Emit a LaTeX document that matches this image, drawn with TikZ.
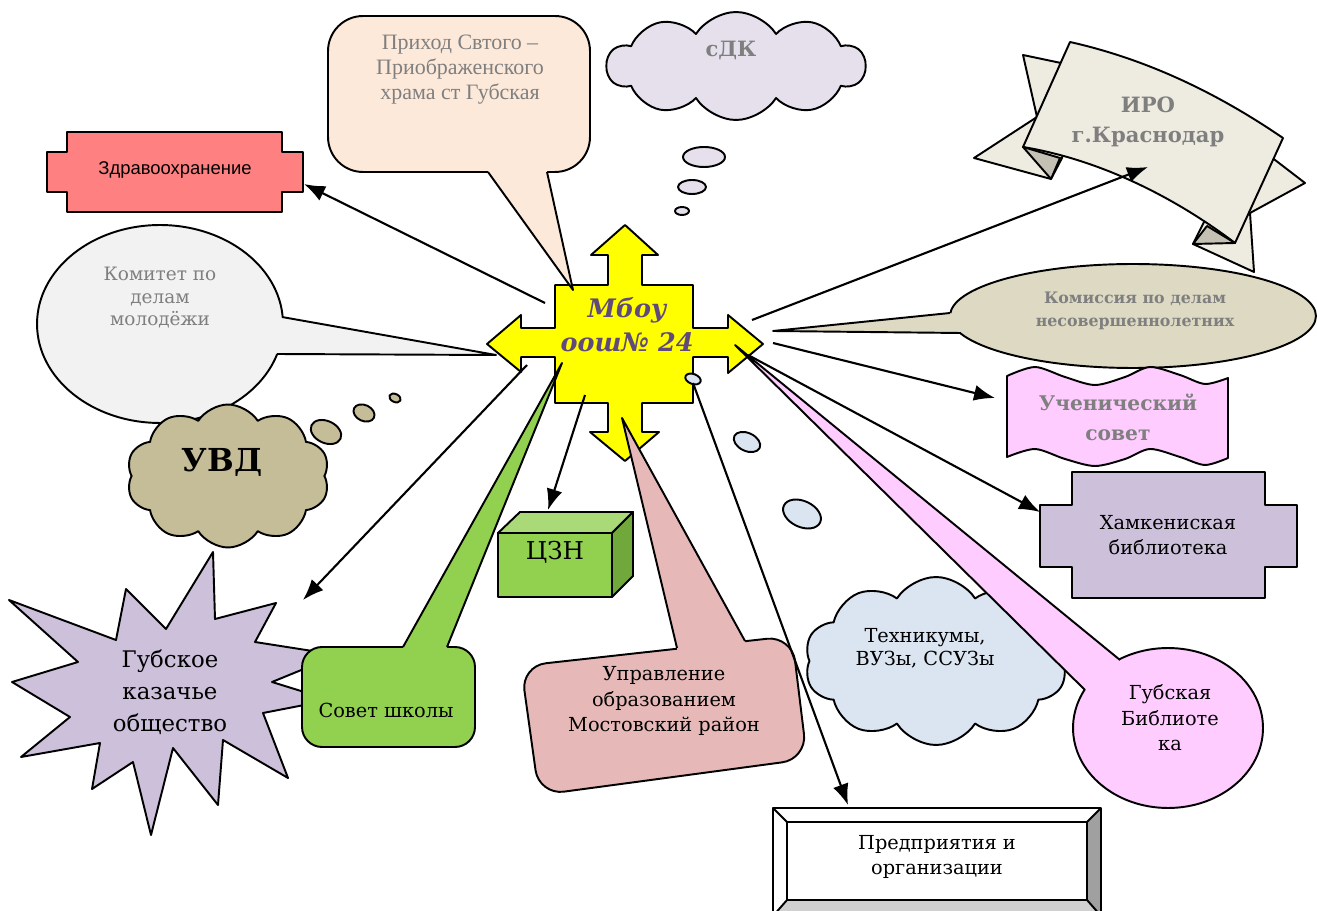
\documentclass[tikz,border=0pt]{standalone}
\usepackage{fontspec}
\setmainfont{DejaVu Serif}
\newfontfamily\timesf{Liberation Serif}
\newfontfamily\arialf{Liberation Sans}
\usetikzlibrary{shapes.geometric,shapes.symbols,arrows.meta}
\definecolor{cyel}{HTML}{FFFF00}
\definecolor{cpeach}{HTML}{FDE9D9}
\definecolor{clav}{HTML}{E5E0EC}
\definecolor{cbeige}{HTML}{EEECE1}
\definecolor{cfold}{HTML}{C4C0B4}
\definecolor{cred}{HTML}{FF8080}
\definecolor{cgrayf}{HTML}{F2F2F2}
\definecolor{ckhaki}{HTML}{C4BD97}
\definecolor{clilac}{HTML}{CCC0DA}
\definecolor{cgreen}{HTML}{92D050}
\definecolor{cgreent}{HTML}{AAD978}
\definecolor{cgreens}{HTML}{70A83C}
\definecolor{crose}{HTML}{E6B9B8}
\definecolor{cblue}{HTML}{DBE5F1}
\definecolor{cpink}{HTML}{FFCCFF}
\definecolor{csand}{HTML}{DDD9C3}
\definecolor{ctxtg}{HTML}{7F7F7F}
\definecolor{cpurp}{HTML}{604A7B}
\definecolor{cbevr}{HTML}{A0A0A0}
\definecolor{cbevb}{HTML}{D0D0D0}
\begin{document}
\begin{tikzpicture}[x=0.02cm,y=-0.02cm,line width=1.1pt,line join=round,
  shp/.style={draw=black},
  txt/.style={align=center,inner sep=0pt},
  arr/.style={-{Latex[length=0.42cm,width=0.32cm]},line width=1.2pt},
  cloudy/.style={cloud,cloud puffs=10,cloud puff arc=115,cloud ignores aspect,draw=black,inner sep=0pt},
  oval/.style={ellipse,draw=black,inner sep=0pt},
  bub/.style={ellipse,draw=black,inner sep=0pt}]
\useasboundingbox (0,0) rectangle (1317,911);
\clip (0,0) rectangle (1317,911);
\fill[white] (0,0) rectangle (1317,911);

% ---------- IRO ribbon
\path[shp,fill=cbeige] (1023,55) -- (1080,67) -- (1062,158) -- (1051,179) -- (974,158) -- (1037,117) -- cycle;
\path[shp,fill=cbeige] (1262,150) -- (1305,183) -- (1250,213) -- (1254,272) -- (1193,244) -- (1215,200) -- cycle;
\path[shp,fill=cbeige] (1070,42) .. controls (1150,60) and (1220,95) .. (1283,138) -- (1235,243) .. controls (1165,190) and (1090,158) .. (1023,147) -- cycle;
\path[shp,fill=cfold] (1023,147) -- (1060,158) -- (1051,179) -- cycle;
\path[shp,fill=cfold] (1193,244) -- (1235,243) -- (1207,226) -- cycle;
\node[txt,text=ctxtg,font=\bfseries\fontsize{12}{17}\selectfont] (iro) at (1148,122) {ИРО\\г.Краснодар};

% ---------- Komissiya
\node[oval,fill=csand,minimum width=7.32cm,minimum height=2.08cm] (komis) at (1133,316) {};
\fill[csand] (950,313) -- (773,331) -- (961,333) -- (990,323) -- cycle;
\draw (950,313) -- (773,331) -- (961,333);
\node[txt,text=ctxtg,font=\bfseries\fontsize{9}{13}\selectfont] (komist) at (1135,311) {Комиссия по делам\\несовершеннолетних};

% ---------- Uchenicheskiy sovet
\path[shp,fill=cpink] plot[smooth] coordinates {(1007,376) (1035,367) (1065,377) (1095,385) (1125,377) (1150,367) (1180,375) (1205,384) (1228,378)}
  -- plot[smooth] coordinates {(1228,458) (1205,465) (1180,457) (1150,449) (1125,459) (1095,466) (1065,459) (1035,449) (1007,457)} -- cycle;
\node[txt,text=ctxtg,font=\bfseries\fontsize{11.5}{17}\selectfont] (uch) at (1118,417) {Ученический\\совет};

% ---------- Khamkeniskaya
\path[shp,fill=clilac] (1072,472) -- (1265,472) -- (1265,505) -- (1297,505) -- (1297,567) -- (1265,567) -- (1265,598) -- (1072,598) -- (1072,567) -- (1040,567) -- (1040,505) -- (1072,505) -- cycle;
\node[txt,font=\fontsize{11}{14.2}\selectfont] (kham) at (1168,535) {Хамкениская\\библиотека};

% ---------- Zdravookhranenie
\path[shp,fill=cred] (67,132) -- (282,132) -- (282,152) -- (303,152) -- (303,192) -- (282,192) -- (282,212) -- (67,212) -- (67,192) -- (47,192) -- (47,152) -- (67,152) -- cycle;
\node[txt,font=\arialf\fontsize{10.5}{13}\selectfont] (zdrav) at (175,170) {Здравоохранение};

% ---------- Predpriyatiya
\path[fill=white] (773,808) rectangle (1101,916);
\path[fill=cbevr] (1101,808) -- (1101,916) -- (1087,902) -- (1087,822) -- cycle;
\path[fill=cbevb] (773,916) -- (1101,916) -- (1087,900) -- (787,900) -- cycle;
\draw (773,808) rectangle (1101,916);
\draw (787,822) rectangle (1087,900);
\draw (773,808) -- (787,822) (1101,808) -- (1087,822) (773,916) -- (787,900) (1101,916) -- (1087,900);
\node[txt,font=\fontsize{11}{14.2}\selectfont] (pred) at (937,857) {Предприятия и\\организации};

% ---------- Central yellow cross
\path[shp,fill=cyel] (625,225) -- (658,255) -- (642,255) -- (642,285) -- (693,285) -- (693,328) -- (728,328) -- (728,315) -- (763,344) -- (728,373) -- (728,357) -- (693,357) -- (693,403) -- (642,403) -- (642,432) -- (659,432) -- (625,461) -- (590,432) -- (608,432) -- (608,403) -- (555,403) -- (555,357) -- (521,357) -- (521,372) -- (487,344) -- (521,315) -- (521,328) -- (555,328) -- (555,285) -- (608,285) -- (608,255) -- (591,255) -- cycle;
\node[txt,text=cpurp,font=\bfseries\itshape\fontsize{14.5}{19.3}\selectfont] (mbou) at (627,325) {Мбоу\\оош№ 24};

% ---------- Prikhod
\node[shp,fill=cpeach,rounded corners=0.7cm,minimum width=5.24cm,minimum height=3.12cm,inner sep=0pt] (prihod) at (459,94) {};
\fill[cpeach] (488,172) -- (573,290) -- (547,172) -- (547,160) -- (488,160) -- cycle;
\draw (488,172) -- (573,290) -- (547,172);
\node[txt,text=ctxtg,font=\timesf\fontsize{12.5}{14.2}\selectfont] (priht) at (460,70) {Приход Свтого –\\Приображенского\\храма ст Губская};

% ---------- sDK cloud
\node[cloudy,fill=clav,minimum width=5.16cm,minimum height=2.16cm] (sdk) at (736,66) {};
\node[txt,text=ctxtg,font=\bfseries\fontsize{12}{14}\selectfont] (sdkt) at (731,50) {сДК};
\node[bub,fill=clav,minimum width=0.84cm,minimum height=0.4cm] (sb1) at (704,157) {};
\node[bub,fill=clav,minimum width=0.56cm,minimum height=0.28cm] (sb2) at (692,187) {};
\node[bub,fill=clav,minimum width=0.28cm,minimum height=0.16cm] (sb3) at (682,211) {};

% ---------- Komitet
\node[oval,fill=cgrayf,minimum width=4.92cm,minimum height=3.96cm] (komit) at (160,324) {};
\fill[cgrayf] (282,317) -- (496,355) -- (277,354) -- (255,335) -- cycle;
\draw (282,317) -- (496,355) -- (277,354);
\node[txt,text=ctxtg,font=\fontsize{10.5}{12.8}\selectfont] (komitt) at (160,298) {Комитет по\\делам\\молодёжи};

% ---------- UVD cloud
\node[cloudy,fill=ckhaki,minimum width=4.06cm,minimum height=2.86cm] (uvd) at (228,476) {};
\node[txt,font=\bfseries\fontsize{18}{20}\selectfont] (uvdt) at (222,462) {УВД};
\node[bub,fill=ckhaki,minimum width=0.64cm,minimum height=0.44cm,rotate=-25] (ub1) at (326,432) {};
\node[bub,fill=ckhaki,minimum width=0.44cm,minimum height=0.32cm,rotate=-25] (ub2) at (364,413) {};
\node[bub,fill=ckhaki,minimum width=0.24cm,minimum height=0.16cm,rotate=-25] (ub3) at (395,398) {};

% ---------- Gubskoe kazache star
\path[shp,fill=clilac] (213,552) -- (215,619) -- (276,603) -- (255,642) -- (338,655) -- (272,682) -- (330,700) -- (263,713) -- (288,778) -- (223,740) -- (218,805) -- (173,748) -- (151,835) -- (133,762) -- (92,789) -- (100,743) -- (21,757) -- (70,717) -- (12,682) -- (78,662) -- (9,600) -- (116,640) -- (126,589) -- (166,629) -- cycle;
\node[txt,font=\fontsize{13}{18.1}\selectfont] (kaz) at (170,692) {Губское\\казачье\\общество};

% ---------- Sovet shkoly
\node[shp,fill=cgreen,rounded corners=0.4cm,minimum width=3.46cm,minimum height=2cm,inner sep=0pt] (sovet) at (388.5,697) {};
\fill[cgreen] (403,647) -- (562,363) -- (447,647) -- (447,660) -- (403,660) -- cycle;
\draw (403,647) -- (562,363) -- (447,647);
\node[txt,font=\fontsize{11}{14.2}\selectfont] (sovett) at (386,710) {Совет школы};

% ---------- CZN cube
\path[shp,fill=cgreent] (498,533) -- (520,512) -- (633,512) -- (612,533) -- cycle;
\path[shp,fill=cgreens] (612,533) -- (633,512) -- (633,576) -- (612,597) -- cycle;
\path[shp,fill=cgreen] (498,533) rectangle (612,597);
\node[txt,font=\fontsize{14}{16}\selectfont] (czn) at (555,552) {ЦЗН};

% ---------- Upravlenie
\path[shp,fill=crose,rounded corners=0.5cm] (521,666) -- (792,636) -- (807,759) -- (539,795) -- cycle;
\fill[crose] (677,648) -- (622,418) -- (745,641) -- (745,660) -- (677,660) -- cycle;
\draw (677,648) -- (622,418) -- (745,641);
\node[txt,font=\fontsize{11}{14.5}\selectfont] (upr) at (664,701) {Управление\\образованием\\Мостовский район};

% ---------- Tekhnikumy cloud
\node[cloudy,fill=cblue,minimum width=5.26cm,minimum height=3.36cm] (tekh) at (936,661) {};
\node[txt,font=\fontsize{11}{13}\selectfont] (tekht) at (925,648) {Техникумы,\\ВУЗы, ССУЗы};
\node[bub,fill=cblue,minimum width=0.32cm,minimum height=0.2cm,rotate=-20] (tb1) at (693,379) {};
\node[bub,fill=cblue,minimum width=0.56cm,minimum height=0.36cm,rotate=-25] (tb2) at (747,442) {};
\node[bub,fill=cblue,minimum width=0.8cm,minimum height=0.52cm,rotate=-25] (tb3) at (802,514) {};

% ---------- Gubskaya biblioteka
\node[oval,fill=cpink,minimum width=3.8cm,minimum height=3.2cm] (gub) at (1168,728) {};
\fill[cpink] (1120,660) -- (735,345) -- (1085,690) -- (1120,700) -- cycle;
\draw (1120,660) -- (735,345) -- (1085,690);
\node[txt,font=\fontsize{11}{14.5}\selectfont] (gubt) at (1170,718) {Губская\\Библиоте\\ка};

% ---------- Arrows
\coordinate (s1) at (545,303); \coordinate (e1) at (304,184);
\coordinate (s2) at (752,320); \coordinate (e2) at (1148,167);
\coordinate (s3) at (773,343); \coordinate (e3) at (995,398);
\coordinate (s4) at (748,355); \coordinate (e4) at (1040,512);
\coordinate (s5) at (693,383); \coordinate (e5) at (848,805);
\coordinate (s6) at (585,395); \coordinate (e6) at (548,510);
\coordinate (s7) at (527,365); \coordinate (e7) at (303,600);
\draw[arr] (s1) -- (e1);
\draw[arr] (s2) -- (e2);
\draw[arr] (s3) -- (e3);
\draw[arr] (s4) -- (e4);
\draw[arr] (s5) -- (e5);
\draw[arr] (s6) -- (e6);
\draw[arr] (s7) -- (e7);
\end{tikzpicture}
\end{document}
